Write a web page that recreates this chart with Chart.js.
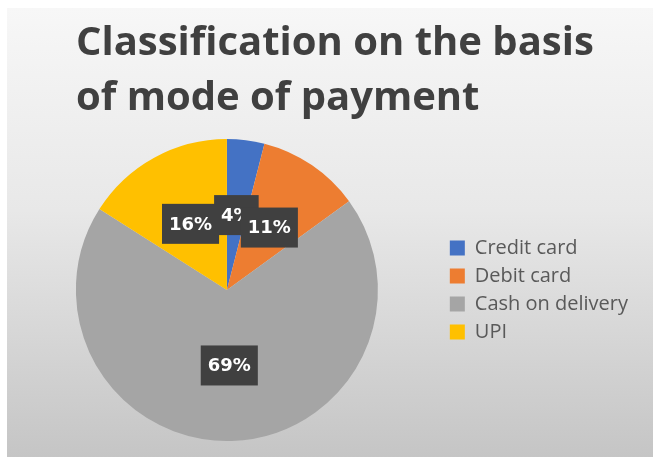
<!DOCTYPE html>
<html>
<head>
<meta charset="utf-8">
<script src="https://cdn.jsdelivr.net/npm/chart.js@4"></script>
<style>
  html, body { margin: 0; padding: 0; background: #ffffff; }
  #chart { display: block; }
</style>
</head>
<body>
<canvas id="chart" width="653" height="457"></canvas>
<script>
// Payment mode shares (percent of orders)
const categories = ['Credit card', 'Debit card', 'Cash on delivery', 'UPI'];
const shares = [4, 11, 69, 16];
const sliceColors = ['#4472c4', '#ed7d31', '#a5a5a5', '#ffc000'];
const titleLines = ['Classification on the basis', 'of mode of payment'];
// order in which value labels are stacked (last one on top)
const labelOrder = [3, 0, 1, 2];

// gradient panel behind everything plus the two-line heading
const panelAndTitle = {
  id: 'panelAndTitle',
  beforeDraw(chart) {
    const ctx = chart.ctx;
    const w = chart.width, h = chart.height;
    ctx.save();
    ctx.fillStyle = '#ffffff';
    ctx.fillRect(0, 0, w, h);
    const g = ctx.createLinearGradient(0, 8, 0, h);
    g.addColorStop(0, '#f7f7f7');
    g.addColorStop(0.45, '#e8e8e8');
    g.addColorStop(1, '#c5c5c5');
    ctx.fillStyle = g;
    ctx.fillRect(7, 8, w - 7, h - 8);

    ctx.fillStyle = '#404040';
    ctx.font = 'bold 40px "Open Sans"';
    ctx.textAlign = 'left';
    ctx.textBaseline = 'alphabetic';
    ctx.fillText(titleLines[0], 76, 55);
    ctx.fillText(titleLines[1], 76, 110);
    ctx.restore();
  }
};

// dark callout boxes with the percentage of each slice
const sliceLabels = {
  id: 'sliceLabels',
  afterDatasetsDraw(chart) {
    const ctx = chart.ctx;
    const arcs = chart.getDatasetMeta(0).data;
    ctx.save();
    ctx.font = 'bold 18px "DejaVu Sans"';
    ctx.textAlign = 'center';
    ctx.textBaseline = 'middle';
    labelOrder.forEach(i => {
      const pos = arcs[i].tooltipPosition();
      const text = shares[i] + '%';
      const tw = ctx.measureText(text).width;
      const bw = tw + 14, bh = 40;
      ctx.fillStyle = '#404040';
      ctx.fillRect(pos.x - bw / 2, pos.y - bh / 2, bw, bh);
      ctx.fillStyle = '#ffffff';
      ctx.fillText(text, pos.x, pos.y + 1);
    });
    ctx.restore();
  }
};

new Chart(document.getElementById('chart'), {
  type: 'pie',
  data: {
    labels: categories,
    datasets: [{
      data: shares,
      backgroundColor: sliceColors,
      borderWidth: 0
    }]
  },
  options: {
    responsive: false,
    animation: false,
    events: [],
    layout: { padding: { left: 12, right: 15, top: 139, bottom: 16 } },
    plugins: {
      title: { display: false },
      tooltip: { enabled: false },
      legend: {
        position: 'right',
        align: 'center',
        labels: {
          boxWidth: 15,
          boxHeight: 15,
          padding: 8,
          color: '#595959',
          font: { family: 'Open Sans', size: 20 }
        }
      }
    }
  },
  plugins: [panelAndTitle, sliceLabels]
});
</script>
</body>
</html>
